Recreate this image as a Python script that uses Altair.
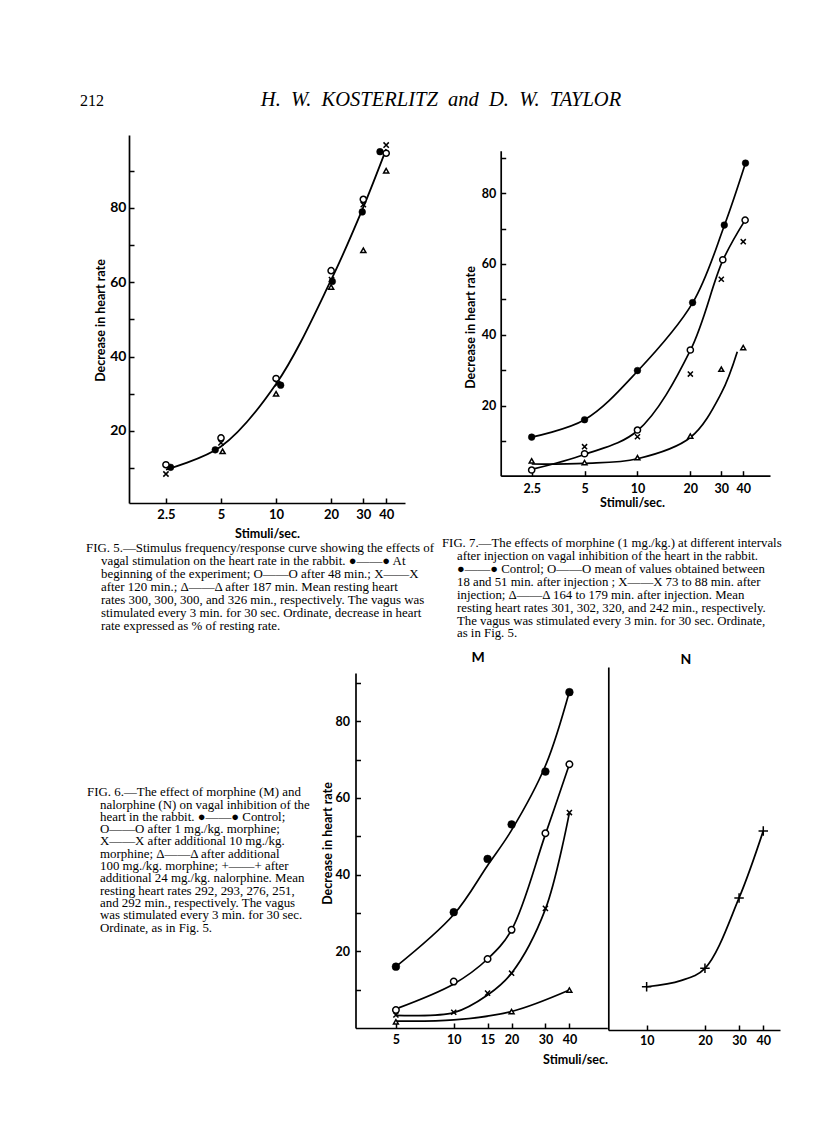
import altair as alt
import pandas as pd

# ---------------- data read from the page ----------------
# Fig. 5
F5_TICKS = [2.5, 5, 10, 20, 30, 40]
F5_CTRL_X = [2.65, 4.65, 10.6, 20.3, 29.6, 37.0]
F5_CTRL_Y = [10.2, 14.9, 32.3, 60.2, 78.9, 95.1]
F5_48_X = [2.5, 5.0, 10.0, 20.0, 30.0, 40.0]
F5_48_Y = [10.9, 18.1, 34.1, 63.1, 82.3, 94.7]
F5_120_X = [2.5, 5.0, 10.2, 20.1, 30.0, 40.0]
F5_120_Y = [8.4, 16.8, 32.7, 60.7, 80.9, 96.9]
F5_187_X = [5.1, 10.0, 20.0, 30.0, 40.0]
F5_187_Y = [14.5, 30.0, 58.7, 68.6, 90.0]
F5_CURVE_X = [2.5, 5, 10, 20, 30, 40]
F5_CURVE_Y = [9.6, 15.8, 32.6, 60.6, 80.2, 95.8]

# Fig. 7
F7_TICKS = [2.5, 5, 10, 20, 30, 40]
F7_CTRL_X = [2.5, 5, 10, 20.6, 31.2, 41.2]
F7_CTRL_Y = [11.1, 16.0, 29.9, 49.1, 71.0, 88.5]
F7_MEAN_X = [2.5, 5, 10, 20, 30.6, 41.0]
F7_MEAN_Y = [1.8, 6.4, 13.1, 35.7, 61.2, 72.4]
F7_73_X = [5, 10, 20, 30, 40]
F7_73_Y = [8.4, 11.2, 28.9, 55.7, 66.3]
F7_164_X = [2.5, 5, 10, 20, 30, 40]
F7_164_Y = [4.4, 3.9, 5.3, 11.4, 30.3, 36.4]
F7_CTRL_CURVE_Y = [11.1, 16.0, 29.7, 49.0, 70.8, 88.5]
F7_MEAN_CURVE_Y = [2.0, 6.2, 12.9, 35.6, 61.0, 72.4]
F7_164_CURVE_X = [2.5, 5, 10, 20, 30, 37]
F7_164_CURVE_Y = [3.5, 3.7, 5.0, 11.0, 23.5, 35.2]

# Fig. 6 M
M_TICKS = [5, 10, 15, 20, 30, 40]
M_X = [5, 10, 15, 20, 30, 40]
M_CTRL_Y = [16.0, 30.2, 44.1, 53.1, 66.9, 87.6]
M_1_Y = [4.7, 12.1, 18.0, 25.6, 50.8, 68.8]
M_10_Y = [3.4, 4.1, 9.1, 14.3, 31.2, 56.2]
M_100_X = [5, 20, 40]
M_100_Y = [1.6, 4.3, 9.9]
M_CTRL_CURVE_Y = [16.0, 29.6, 42.4, 51.6, 68.4, 87.8]
M_1_CURVE_Y = [5.0, 11.5, 18.0, 25.6, 50.5, 68.8]
M_10_CURVE_Y = [3.3, 4.0, 8.6, 14.3, 31.0, 56.2]
M_100_CURVE_X = [5, 10, 20, 40]
M_100_CURVE_Y = [1.8, 2.1, 4.3, 9.9]

# Fig. 6 N
N_TICKS = [10, 20, 30, 40]
N_X = [10, 20, 30, 40]
N_Y = [10.8, 15.6, 34.0, 51.5]
N_CURVE_X = [10, 15, 20, 30, 40]
N_CURVE_Y = [10.8, 12.4, 15.6, 34.0, 51.5]

Y_TICKS = [10, 20, 30, 40, 50, 60, 70, 80, 90]

SP = "\u2002"
HEADER_PAGE = "212"
HEADER_AUTHORS = SP.join(["H.", "W.", "KOSTERLITZ", "and", "D.", "W.", "TAYLOR"])

CAP5 = [
    "FIG. 5.\u2014Stimulus frequency/response curve showing the effects of",
    "vagal stimulation on the heart rate in the rabbit.  \u25cf\u2014\u2014\u25cf At",
    "beginning of the experiment;  O\u2014\u2014O after 48 min.;  X\u2014\u2014X",
    "after 120 min.;  \u0394\u2014\u2014\u0394 after 187 min.  Mean resting heart",
    "rates 300, 300, 300, and 326 min., respectively.  The vagus was",
    "stimulated every 3 min. for 30 sec.  Ordinate, decrease in heart",
    "rate expressed as % of resting rate.",
]
CAP7 = [
    "FIG. 7.\u2014The effects of morphine (1 mg./kg.) at different intervals",
    "after injection on vagal inhibition of the heart in the rabbit.",
    "\u25cf\u2014\u2014\u25cf Control;  O\u2014\u2014O mean of values obtained between",
    "18 and 51 min. after injection ;  X\u2014\u2014X 73 to 88 min. after",
    "injection;  \u0394\u2014\u2014\u0394 164 to 179 min. after injection.  Mean",
    "resting heart rates 301, 302, 320, and 242 min., respectively.",
    "The vagus was stimulated every 3 min. for 30 sec.  Ordinate,",
    "as in Fig. 5.",
]
CAP6 = [
    "FIG. 6.\u2014The effect of morphine (M) and",
    "nalorphine (N) on vagal inhibition of the",
    "heart in the rabbit.  \u25cf\u2014\u2014\u25cf Control;",
    "O\u2014\u2014O after 1 mg./kg. morphine;",
    "X\u2014\u2014X after additional 10 mg./kg.",
    "morphine;  \u0394\u2014\u2014\u0394 after additional",
    "100 mg./kg. morphine;  +\u2014\u2014+ after",
    "additional 24 mg./kg. nalorphine.  Mean",
    "resting heart rates 292, 293, 276, 251,",
    "and 292 min., respectively.  The vagus",
    "was stimulated every 3 min. for 30 sec.",
    "Ordinate, as in Fig. 5.",
]

# ---------------- layout helpers ----------------
W, H = 800, 1126
SERIF = "Liberation Serif"
SANS = "Lato"
CROSS = "M-1,-1L1,1M-1,1L1,-1"
PLUS = "M-1,0L1,0M0,-1L0,1"


def P(v):
    return v - 8


def df(xs, ys):
    return pd.DataFrame({"x": xs, "y": ys})


def curve_df(series):
    rows = []
    for name, (xs, ys) in series.items():
        for i, (a, b) in enumerate(zip(xs, ys)):
            rows.append({"s": name, "x": a, "y": b, "o": i})
    return pd.DataFrame(rows)


def marker(data, kind, size, xsc, ysc, xax, yax, sw=1.5):
    base = alt.Chart(data)
    if kind == "dot":
        m = base.mark_point(shape="circle", filled=True, fill="black", stroke="black",
                            strokeWidth=0.5, size=size, opacity=1)
    elif kind == "ring":
        m = base.mark_point(shape="circle", filled=True, fill="white", stroke="black",
                            strokeWidth=sw, size=size, opacity=1)
    elif kind == "tri":
        m = base.mark_point(shape="triangle-up", filled=True, fill="white", stroke="black",
                            strokeWidth=sw, size=size, opacity=1)
    elif kind == "cross":
        m = base.mark_point(shape=CROSS, filled=False, stroke="black",
                            strokeWidth=sw, size=size, opacity=1)
    else:
        m = base.mark_point(shape=PLUS, filled=False, stroke="black",
                            strokeWidth=sw, size=size, opacity=1)
    return m.encode(x=alt.X("x:Q", scale=xsc, axis=xax), y=alt.Y("y:Q", scale=ysc, axis=yax))


def figure(xsc, ysc, cdf, markers, x_lab, y_lab, x_tick, y_tick, lw=1.7):
    lines = alt.Chart(cdf).mark_line(color="black", strokeWidth=lw, interpolate="catmull-rom").encode(
        x=alt.X("x:Q", scale=xsc, axis=x_lab),
        y=alt.Y("y:Q", scale=ysc, axis=y_lab),
        detail="s:N",
        order="o:Q",
    )
    pts = alt.layer(*[marker(d, k, s, xsc, ysc, x_tick, y_tick) for d, k, s in markers])
    return alt.layer(lines, pts).resolve_scale(x="independent", y="independent")


def lab_axes(xvals, xoff, xsize, xpad, xtitle_x, xtitle_y, yoff, ysize, ypad, ytitle_x, ytitle_y,
             tsize=12.5):
    xa = alt.Axis(orient="bottom", offset=xoff, values=xvals, format="~g", ticks=False, tickSize=0,
                  labelFontSize=xsize, labelPadding=xpad, labelFont=SANS, labelFontWeight="bold",
                  title="Stimuli/sec.", titleX=xtitle_x, titleY=xtitle_y, titleFont=SANS,
                  titleFontSize=tsize, titleFontWeight="bold", titleBaseline="middle",
                  titleAlign="center", grid=False, labelFlush=False, labelOverlap=False)
    ya = alt.Axis(orient="left", offset=yoff, values=Y_TICKS,
                  labelExpr="datum.value % 20 == 0 ? datum.label : ''",
                  ticks=False, tickSize=0, labelFontSize=ysize, labelPadding=ypad, labelFont=SANS,
                  labelFontWeight="bold", title="Decrease in heart rate", titleX=ytitle_x,
                  titleY=ytitle_y, titleAngle=270, titleFont=SANS, titleFontSize=tsize,
                  titleFontWeight="bold", titleBaseline="middle", titleAlign="center", grid=False,
                  labelFlush=False, labelOverlap=False)
    return xa, ya


def tick_axes(xvals, xoff, yoff, yticks=True):
    xa = alt.Axis(orient="top", offset=xoff, values=xvals, labels=False, domain=False, ticks=True,
                  tickSize=5, title=None, grid=False)
    if yticks:
        ya = alt.Axis(orient="right", offset=yoff, values=Y_TICKS, labels=False, domain=False,
                      ticks=True, tickSize=5, title=None, grid=False)
    else:
        ya = alt.Axis(orient="right", offset=yoff, labels=False, domain=False, ticks=False,
                      title=None, grid=False)
    return xa, ya


def text(t, x, y, size, font=SERIF, style="normal", weight="normal", align="left", lh=None):
    kw = dict(text=t, font=font, fontSize=size, fontStyle=style, fontWeight=weight, align=align,
              baseline="alphabetic", color="black")
    if lh is not None:
        kw["lineBreak"] = "\n"
        kw["lineHeight"] = lh
    return alt.Chart(alt.Data(values=[{"a": 1}])).mark_text(**kw).encode(
        x=alt.value(P(x)), y=alt.value(P(y)))


# ---------------- Fig. 5 ----------------
f5x = alt.Scale(type="log", domain=[1.57, 50.7], range=[P(129), P(405)], nice=False)
f5y = alt.Scale(type="linear", domain=[0.6, 99.6], range=[P(503), P(135)], nice=False, zero=False)
f5_xl, f5_yl = lab_axes(F5_TICKS, P(503) - H, 13, 5, P(267), 30, -P(129), 14, 3, -29, P(320))
f5_xt, f5_yt = tick_axes(F5_TICKS, -P(503), P(129) - W)
fig5 = figure(
    f5x, f5y,
    curve_df({"c": (F5_CURVE_X, F5_CURVE_Y)}),
    [(df(F5_CTRL_X, F5_CTRL_Y), "dot", 45), (df(F5_48_X, F5_48_Y), "ring", 38),
     (df(F5_120_X, F5_120_Y), "cross", 28), (df(F5_187_X, F5_187_Y), "tri", 26)],
    f5_xl, f5_yl, f5_xt, f5_yt, lw=1.8)

# ---------------- Fig. 7 ----------------
f7x = alt.Scale(type="log", domain=[1.666, 56.8], range=[P(500.7), P(770)], nice=False)
f7y = alt.Scale(type="linear", domain=[0.2, 92], range=[P(475.7), P(150.7)], nice=False, zero=False)
f7_xl, f7_yl = lab_axes(F7_TICKS, P(475.7) - H, 12.5, 7, P(632), 27, -P(500.7), 12.5, 5, -30, P(327))
f7_xt, f7_yt = tick_axes(F7_TICKS, -P(475.7), P(500.7) - W)
fig7 = figure(
    f7x, f7y,
    curve_df({"a": (F7_CTRL_X, F7_CTRL_CURVE_Y), "b": (F7_MEAN_X, F7_MEAN_CURVE_Y),
              "c": (F7_164_CURVE_X, F7_164_CURVE_Y)}),
    [(df(F7_CTRL_X, F7_CTRL_Y), "dot", 45), (df(F7_MEAN_X, F7_MEAN_Y), "ring", 38),
     (df(F7_73_X, F7_73_Y), "cross", 26), (df(F7_164_X, F7_164_Y), "tri", 24)],
    f7_xl, f7_yl, f7_xt, f7_yt)

# ---------------- Fig. 6 M ----------------
mx = alt.Scale(type="log", domain=[3.08, 63.0], range=[P(355.5), P(607.3)], nice=False)
my = alt.Scale(type="linear", domain=[0, 92.6], range=[P(1028), P(673)], nice=False, zero=False)
m_xl, m_yl = lab_axes(M_TICKS, P(1028) - H, 12.5, 5, P(575), 31, -P(355.5), 12.5, 6, -28, P(843))
m_xt, m_yt = tick_axes(M_TICKS, -P(1028), P(355.5) - W)
figM = figure(
    mx, my,
    curve_df({"a": (M_X, M_CTRL_CURVE_Y), "b": (M_X, M_1_CURVE_Y), "c": (M_X, M_10_CURVE_Y),
              "d": (M_100_CURVE_X, M_100_CURVE_Y)}),
    [(df(M_X, M_CTRL_Y), "dot", 60), (df(M_X, M_1_Y), "ring", 42),
     (df(M_X, M_10_Y), "cross", 26), (df(M_100_X, M_100_Y), "tri", 24)],
    m_xl, m_yl, m_xt, m_yt)

# ---------------- Fig. 6 N ----------------
nx = alt.Scale(type="log", domain=[6.34, 48.8], range=[P(608.3), P(780)], nice=False)
ny = alt.Scale(type="linear", domain=[-0.5, 94.3], range=[P(1030), P(667)], nice=False, zero=False)
n_xl = alt.Axis(orient="bottom", offset=P(1030) - H, values=N_TICKS, format="~g", ticks=False,
                tickSize=0, labelFontSize=12.5, labelPadding=4, labelFont=SANS, labelFontWeight="bold",
                title=None, grid=False, labelFlush=False)
n_yl = alt.Axis(orient="left", offset=-P(608.3), labels=False, ticks=False, tickSize=0, title=None,
                grid=False)
n_xt, n_yt = tick_axes(N_TICKS, -P(1030), P(608.3) - W, yticks=False)
figN = figure(
    nx, ny,
    curve_df({"a": (N_CURVE_X, N_CURVE_Y)}),
    [(df(N_X, N_Y), "plus", 90)],
    n_xl, n_yl, n_xt, n_yt)

# ---------------- texts ----------------
texts = [
    text(HEADER_PAGE, 80, 106, 16),
    text(HEADER_AUTHORS, 441, 106, 20.5, style="italic", align="center"),
    text(CAP5[0], 86, 552, 12.9),
    text("\n".join(CAP5[1:]), 101, 565, 12.9, lh=13),
    text(CAP7[0], 442, 547, 12.8),
    text("\n".join(CAP7[1:]), 457, 560, 12.8, lh=12.9),
    text(CAP6[0], 87, 796, 12.9),
    text("\n".join(CAP6[1:]), 100, 808.5, 12.9, lh=12.3),
    text("M", 478, 662, 14, font=SANS, weight="bold", align="center"),
    text("N", 686, 664, 14, font=SANS, weight="bold", align="center"),
]

chart = alt.layer(fig5, fig7, figM, figN, *texts).resolve_scale(
    x="independent", y="independent"
).properties(
    width=W, height=H, padding=0, autosize=alt.AutoSizeParams(type="none")
).configure_view(stroke=None).configure_axis(
    domainColor="black", domainWidth=1.7, tickColor="black", tickWidth=1.5,
    labelColor="black", titleColor="black"
)

chart.save("out.html", embed_options={"renderer": "svg", "actions": False})
